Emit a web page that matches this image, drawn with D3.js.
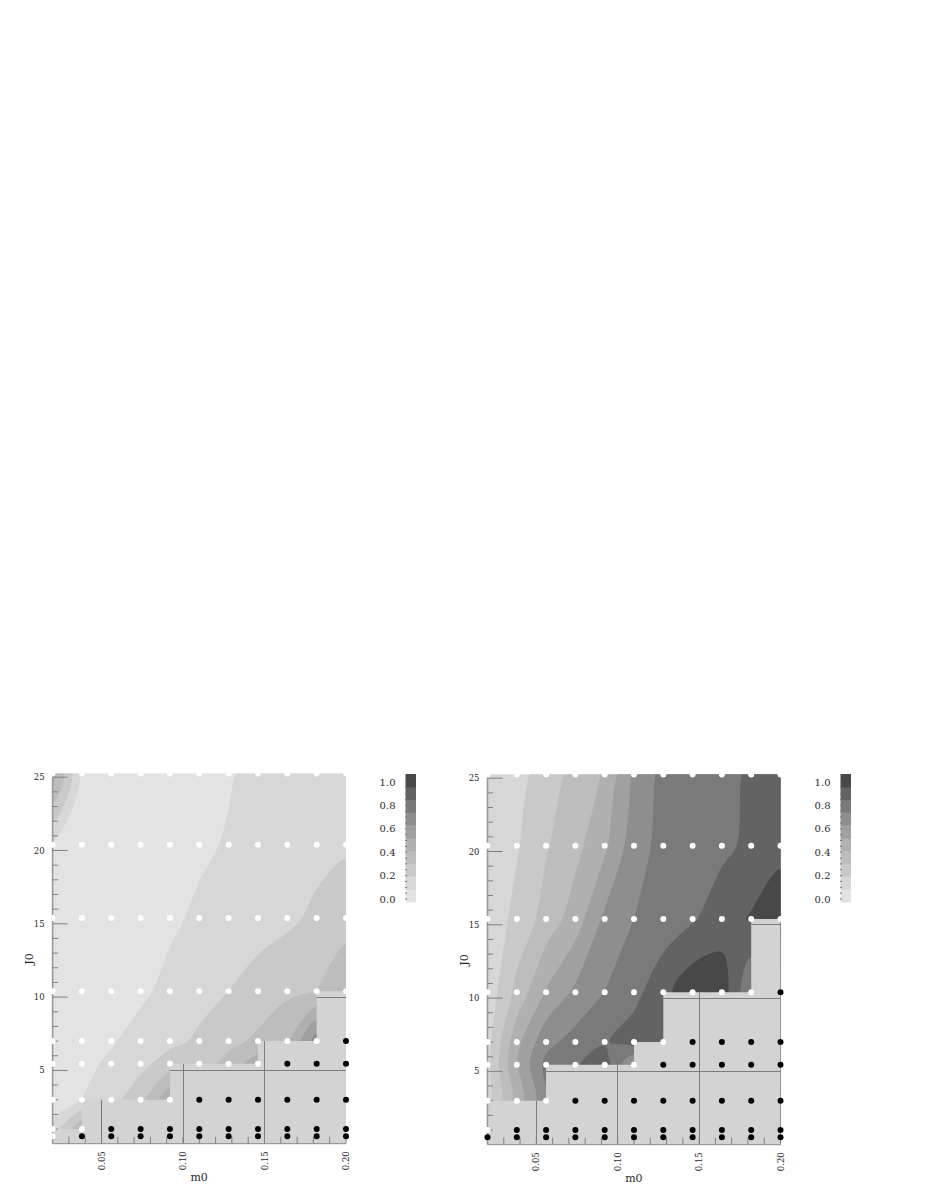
<!DOCTYPE html>
<html><head><meta charset="utf-8">
<script src="https://cdn.jsdelivr.net/npm/d3@7/dist/d3.min.js"></script>
<style>html,body{margin:0;background:#fff}svg{display:block}text{font-family:"DejaVu Serif",serif;fill:#2a2a2a}</style>
</head><body><svg id="c" width="926" height="1199"></svg>
<script>
const m0 = [0.02,0.038,0.056,0.074,0.092,0.11,0.128,0.146,0.164,0.182,0.20];
const j0 = [25.25,20.4,15.4,10.4,7,5.45,3,1,0.5];
const xTickLabels = ["0.05","0.10","0.15","0.20"];
const yTickLabels = ["5","10","15","20","25"];
const barLabels = ["0.0","0.2","0.4","0.6","0.8","1.0"];
const bandColors = ['#e3e3e3','#d7d7d7','#c9c9c9','#bdbdbd','#b0b0b0','#a0a0a0','#8e8e8e','#7a7a7a','#636363','#484848'];
const thresholds = [0,0.1,0.2,0.3,0.4,0.5,0.6,0.7,0.8,0.9];

const leftValues = [
 [.45,.08,.07,.07,.07,.07,.09,.13,.15,.16,.18],
 [.08,.05,.05,.06,.06,.08,.11,.13,.15,.17,.185],
 [.03,.04,.05,.06,.08,.12,.14,.16,.18,.22,.26],
 [.02,.03,.05,.08,.13,.16,.20,.24,.28,.30,.37],
 [.02,.05,.09,.14,.17,.22,.27,.32,.39,.65,.50],
 [.01,.07,.12,.17,.25,.24,.34,.46,.50,.60,.60],
 [.03,.10,.17,.27,.48,.50,.50,.50,.50,.50,.50],
 [.15,.39,.40,.40,.40,.40,.40,.40,.40,.40,.40],
 [.20,.40,.40,.40,.40,.40,.40,.40,.40,.40,.40]];
const rightValues = [
 [.13,.17,.24,.34,.41,.62,.73,.76,.78,.81,.87],
 [.13,.19,.29,.37,.48,.66,.73,.76,.78,.82,.86],
 [.13,.23,.34,.45,.62,.70,.74,.79,.85,.91,.985],
 [.136,.33,.51,.62,.70,.77,.87,.97,.96,.70,.70],
 [.16,.47,.67,.74,.79,.85,.85,.90,.90,.70,.70],
 [.17,.50,.73,.79,.86,.58,.90,.90,.90,.70,.70],
 [.17,.44,.68,.80,.85,.85,.85,.85,.85,.85,.85],
 [.30,.60,.75,.80,.85,.85,.85,.85,.85,.85,.85],
 [.30,.60,.75,.80,.85,.85,.85,.85,.85,.85,.85]];

// 1 = black (failed) point, 0 = white point
const leftDots = [
 [0,0,0,0,0,0,0,0,0,0,0],
 [0,0,0,0,0,0,0,0,0,0,0],
 [0,0,0,0,0,0,0,0,0,0,0],
 [0,0,0,0,0,0,0,0,0,0,0],
 [0,0,0,0,0,0,0,0,0,0,1],
 [0,0,0,0,0,0,0,0,1,1,1],
 [0,0,0,0,0,1,1,1,1,1,1],
 [0,0,1,1,1,1,1,1,1,1,1],
 [0,1,1,1,1,1,1,1,1,1,1]];
const rightDots = [
 [0,0,0,0,0,0,0,0,0,0,0],
 [0,0,0,0,0,0,0,0,0,0,0],
 [0,0,0,0,0,0,0,0,0,0,0],
 [0,0,0,0,0,0,0,0,0,0,1],
 [0,0,0,0,0,0,0,1,1,1,1],
 [0,0,0,0,0,0,1,1,1,1,1],
 [0,0,0,1,1,1,1,1,1,1,1],
 [0,1,1,1,1,1,1,1,1,1,1],
 [1,1,1,1,1,1,1,1,1,1,1]];
// staircase top of the excluded region
const leftStepM = [0.02,0.038,0.092,0.146,0.182,0.20];
const leftStepJ = [1,3,5.45,7,10.4,10.4];
const rightStepM = [0.02,0.056,0.11,0.128,0.182,0.20];
const rightStepJ = [3,5.45,7,10.4,15.4,15.4];

const svg = d3.select("#c");
let uid = 0;
function panel(cfg){
  const id = "p"+(uid++);
  const x = d3.scaleLinear().domain([0.02,0.20]).range([cfg.x0,cfg.x1]);
  const y = d3.scaleLinear().domain([0,25]).range([cfg.y0,cfg.y0-366.5]);
  const top = y(25.25), bottom = y(0);
  const g = svg.append("g");
  const defs = g.append("defs");
  defs.append("clipPath").attr("id",id+"a").append("rect")
    .attr("x",cfg.x0).attr("y",top).attr("width",cfg.x1-cfg.x0).attr("height",bottom-top);
  // grid index -> data scales (value i sits at i+0.5 in d3.contours)
  const ix = d3.scaleLinear().domain(m0.map((d,i)=>i+0.5)).range(m0.map(x));
  const iy = d3.scaleLinear().domain(j0.map((d,i)=>i+0.5)).range(j0.map(y));
  const ring = d3.line().x(p=>ix(p[0])).y(p=>iy(p[1])).curve(d3.curveCatmullRomClosed.alpha(0.5));
  const bandPath = c => c.coordinates.flatMap(poly=>poly.map(r=>ring(r.slice(0,-1)))).join("");
  const contours = d3.contours().size([m0.length,j0.length]).smooth(true).thresholds(thresholds)(cfg.values.flat());
  const cg = g.append("g").attr("clip-path",`url(#${id}a)`);
  cg.append("rect").attr("x",cfg.x0).attr("y",top).attr("width",cfg.x1-cfg.x0).attr("height",bottom-top).attr("fill",bandColors[0]);
  cg.selectAll("path").data(contours).join("path")
    .attr("d",bandPath).attr("fill-rule","evenodd").attr("fill",(d,i)=>bandColors[i]);
  // excluded region
  const steps = cfg.stepM.map((m,i)=>[m,cfg.stepJ[i]]);
  const area = d3.area().curve(d3.curveStepAfter).x(d=>x(d[0])).y0(bottom).y1(d=>y(d[1]));
  g.append("path").attr("d",area(steps)).attr("fill","#d3d3d3");
  defs.append("clipPath").attr("id",id+"m").append("path").attr("d",area(steps));
  const grid = g.append("g").attr("clip-path",`url(#${id}m)`).attr("stroke","#7d7d7d").attr("stroke-width",1).attr("shape-rendering","crispEdges");
  grid.selectAll(".h").data([5,10,15,20,25]).join("line").attr("x1",cfg.x0).attr("x2",cfg.x1).attr("y1",d=>y(d)).attr("y2",d=>y(d));
  grid.selectAll(".v").data([0.05,0.10,0.15,0.20]).join("line").attr("x1",d=>x(d)).attr("x2",d=>x(d)).attr("y1",top).attr("y2",bottom);
  // axes
  const yAxis = g.append("g").attr("transform",`translate(${cfg.x0},0)`);
  yAxis.append("line").attr("y1",top).attr("y2",bottom).attr("stroke","#9a9a9a").attr("stroke-width",1.6);
  yAxis.selectAll("line.t").data(d3.range(1,26)).join("line").attr("class","t")
    .attr("x1",0).attr("x2",d=>d%5===0?15:5.5).attr("y1",d=>y(d)).attr("y2",d=>y(d))
    .attr("stroke","#808080").attr("stroke-width",1);
  yAxis.selectAll("text").data(yTickLabels).join("text")
    .attr("x",-8).attr("y",d=>y(+d)+3).attr("text-anchor","end").attr("font-size",8.5).text(d=>d);
  const xAxis = g.append("g").attr("transform",`translate(0,${bottom})`);
  xAxis.append("line").attr("x1",cfg.x0).attr("x2",cfg.x1).attr("stroke","#9a9a9a").attr("stroke-width",1.2);
  xAxis.selectAll("line.t").data(d3.range(3,21)).join("line").attr("class","t")
    .attr("x1",d=>x(d/100)).attr("x2",d=>x(d/100)).attr("y1",0).attr("y2",-7)
    .attr("stroke","#808080").attr("stroke-width",1);
  xAxis.selectAll("text").data(xTickLabels).join("text")
    .attr("transform",d=>`translate(${x(+d)+3},${17}) rotate(-90)`)
    .attr("text-anchor","middle").attr("font-size",8.5).text(d=>d);
  g.append("text").attr("x",(x(0.10)+x(0.11))/2+8).attr("y",bottom+37).attr("text-anchor","middle").attr("font-size",11).text("m0");
  g.append("text").attr("transform",`translate(${cfg.x0-20},${y(12.6)}) rotate(-90)`).attr("text-anchor","middle").attr("font-size",11).text("J0");
  // points
  const pts = j0.flatMap((J,r)=>m0.map((m,c)=>({m,J,b:cfg.dots[r][c]})));
  g.selectAll("circle").data(pts).join("circle")
    .attr("cx",d=>x(d.m)).attr("cy",d=>y(d.J)).attr("r",3).attr("fill",d=>d.b?"#000":"#fff");
  // colour bar
  const bar = g.append("g");
  const by = d3.scaleBand().domain(d3.range(bandColors.length)).range([cfg.barY+128,cfg.barY]);
  bar.selectAll("rect").data(bandColors).join("rect")
    .attr("x",cfg.barX).attr("width",10.5).attr("y",(d,i)=>by(i)).attr("height",by.bandwidth()+0.5).attr("fill",d=>d);
  const bl = d3.scaleLinear().domain([0,1]).range([cfg.barY+125,cfg.barY+8]);
  bar.selectAll("line").data(d3.range(0,21)).join("line")
    .attr("x1",cfg.barX-0.5).attr("x2",cfg.barX+1.5).attr("y1",d=>bl(d/20)).attr("y2",d=>bl(d/20)).attr("stroke","#777");
  bar.selectAll("text").data(barLabels).join("text")
    .attr("x",cfg.barX-10).attr("y",d=>bl(+d)+3.5).attr("text-anchor","end").attr("font-size",10).text(d=>d);
}
panel({x0:52.6,x1:346,y0:1143.7,values:leftValues,dots:leftDots,stepM:leftStepM,stepJ:leftStepJ,barX:405.5,barY:774});
panel({x0:487.5,x1:780.5,y0:1144.7,values:rightValues,dots:rightDots,stepM:rightStepM,stepJ:rightStepJ,barX:840.5,barY:774});
</script></body></html>
